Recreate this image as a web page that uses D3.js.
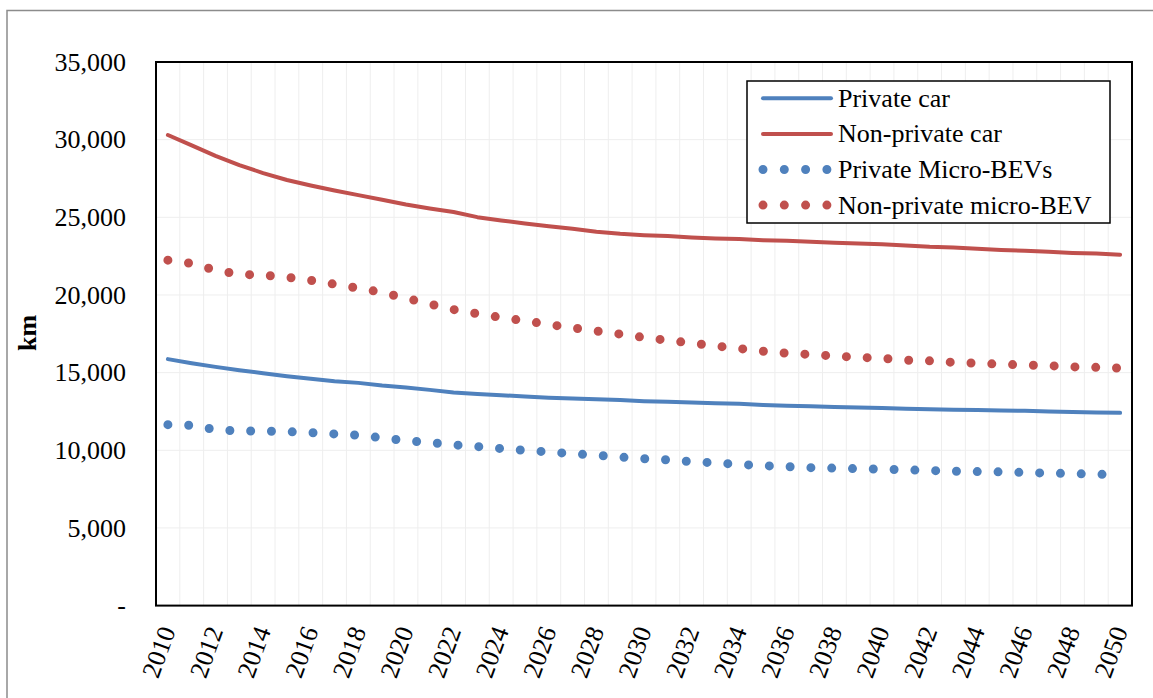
<!DOCTYPE html>
<html>
<head>
<meta charset="utf-8">
<script src="https://cdnjs.cloudflare.com/ajax/libs/d3/7.8.5/d3.min.js"></script>
<style>
  body { margin: 0; background: #fff; }
  text { font-family: "Liberation Serif", "Times New Roman", serif; fill: #000; }
</style>
</head>
<body>
<div id="graph"></div>
<script>
const years = [2010, 2011, 2012, 2013, 2014, 2015, 2016, 2017, 2018, 2019,
               2020, 2021, 2022, 2023, 2024, 2025, 2026, 2027, 2028, 2029,
               2030, 2031, 2032, 2033, 2034, 2035, 2036, 2037, 2038, 2039,
               2040, 2041, 2042, 2043, 2044, 2045, 2046, 2047, 2048, 2049, 2050];

const privateCar = [15870, 15610, 15370, 15160, 14960, 14770, 14600, 14450, 14340, 14170,
                    14040, 13890, 13720, 13630, 13550, 13460, 13380, 13330, 13290, 13230,
                    13160, 13120, 13070, 13030, 12990, 12920, 12870, 12840, 12790, 12750,
                    12720, 12680, 12640, 12610, 12590, 12560, 12540, 12500, 12470, 12440, 12410];

const nonPrivateCar = [30300, 29630, 28960, 28360, 27850, 27400, 27050, 26730, 26430, 26130,
                       25830, 25570, 25340, 25010, 24800, 24600, 24420, 24260, 24070, 23940,
                       23850, 23790, 23700, 23640, 23600, 23530, 23490, 23420, 23360, 23310,
                       23270, 23190, 23100, 23050, 22970, 22900, 22840, 22780, 22710, 22670, 22590];

const privateMicro = [11650, 11610, 11330, 11240, 11240, 11200, 11140, 11050, 10970, 10800,
                      10620, 10500, 10350, 10240, 10110, 10000, 9890, 9780, 9680, 9560,
                      9460, 9380, 9270, 9190, 9090, 9010, 8950, 8880, 8850, 8810,
                      8790, 8740, 8700, 8650, 8630, 8610, 8570, 8530, 8500, 8460, 8430];

const nonPrivateMicro = [22240, 22030, 21590, 21330, 21280, 21140, 20940, 20690, 20440, 20160,
                         19790, 19420, 19060, 18790, 18550, 18330, 18100, 17880, 17680, 17480,
                         17260, 17080, 16900, 16720, 16550, 16380, 16250, 16170, 16070, 15990,
                         15920, 15800, 15760, 15660, 15610, 15540, 15490, 15450, 15370, 15340, 15290];

const seriesNames = ["Private car", "Non-private car", "Private Micro-BEVs", "Non-private micro-BEV"];
const yTicks = [0, 5000, 10000, 15000, 20000, 25000, 30000, 35000];
const xLabels = years.filter(y => y % 2 === 0);

const blue = "#4F81BD";
const red = "#C0504D";

const series = [
  { name: seriesNames[0], values: privateCar, color: blue, dotted: false },
  { name: seriesNames[1], values: nonPrivateCar, color: red, dotted: false },
  { name: seriesNames[2], values: privateMicro, color: blue, dotted: true },
  { name: seriesNames[3], values: nonPrivateMicro, color: red, dotted: true }
];

const w = 1153, h = 698;
const plotLeft = 156, plotRight = 1132, plotTop = 62, plotBottom = 605.6;

const svg = d3.select("#graph")
              .append("svg")
              .attr("width", w)
              .attr("height", h);

// chart area frame (runs off the picture to the right and bottom)
svg.append("rect")
   .attr("x", 7)
   .attr("y", 10.5)
   .attr("width", 1170)
   .attr("height", 720)
   .attr("fill", "#fff")
   .attr("stroke", "#8c8c8c")
   .attr("stroke-width", 1.5);

const xScale = d3.scaleBand()
                 .domain(years)
                 .range([plotLeft, plotRight])
                 .padding(0);

const xMid = d => xScale(d) + xScale.bandwidth() / 2;

const yScale = d3.scaleLinear()
                 .domain([0, 35000])
                 .range([plotBottom, plotTop]);

// grid
svg.append("g")
   .selectAll("line")
   .data(years.slice(1))
   .enter()
   .append("line")
   .attr("x1", d => xScale(d))
   .attr("x2", d => xScale(d))
   .attr("y1", plotTop)
   .attr("y2", plotBottom)
   .attr("stroke", "#eeeeee")
   .attr("stroke-width", 1);

svg.append("g")
   .selectAll("line")
   .data(yTicks.slice(1, -1))
   .enter()
   .append("line")
   .attr("x1", plotLeft)
   .attr("x2", plotRight)
   .attr("y1", d => yScale(d))
   .attr("y2", d => yScale(d))
   .attr("stroke", "#eeeeee")
   .attr("stroke-width", 1);

// y axis
const yAxis = d3.axisLeft(yScale)
                .tickValues(yTicks)
                .tickSize(0)
                .tickPadding(30)
                .tickFormat(d => d === 0 ? "-" : d3.format(",")(d));

const yG = svg.append("g")
              .attr("id", "y-axis")
              .attr("transform", `translate(${plotLeft}, 0)`)
              .call(yAxis);
yG.select(".domain").remove();
yG.selectAll("text")
  .style("font-family", "'Liberation Serif', 'Times New Roman', serif")
  .style("font-size", "26px")
  .attr("fill", "#000");

// x axis
const xAxis = d3.axisBottom(xScale)
                .tickValues(xLabels)
                .tickSize(0)
                .tickFormat(d => d);

const xG = svg.append("g")
              .attr("id", "x-axis")
              .attr("transform", `translate(0, ${plotBottom})`)
              .call(xAxis);
xG.select(".domain").remove();
xG.selectAll("text")
  .style("font-family", "'Liberation Serif', 'Times New Roman', serif")
  .style("font-size", "26px")
  .attr("fill", "#000")
  .attr("y", 0)
  .attr("dy", 0)
  .attr("text-anchor", "end")
  .attr("transform", "translate(8, 25) rotate(-70)");

svg.append("text")
   .attr("transform", "translate(36, 333) rotate(-90)")
   .attr("text-anchor", "middle")
   .style("font-size", "26px")
   .style("font-weight", "bold")
   .text("km");

// lines
const line = d3.line()
               .x((d, i) => xMid(years[i]))
               .y(d => yScale(d));

svg.append("g")
   .selectAll("path")
   .data(series)
   .enter()
   .append("path")
   .attr("d", d => line(d.values))
   .attr("fill", "none")
   .attr("stroke", d => d.color)
   .attr("stroke-width", d => d.dotted ? 9 : 4)
   .attr("stroke-linecap", "round")
   .attr("stroke-linejoin", "round")
   .attr("stroke-dasharray", d => d.dotted ? "0 20.8" : null);

// plot frame
svg.append("rect")
   .attr("x", plotLeft)
   .attr("y", plotTop)
   .attr("width", plotRight - plotLeft)
   .attr("height", plotBottom - plotTop)
   .attr("fill", "none")
   .attr("stroke", "#000")
   .attr("stroke-width", 2);

// legend
const legend = svg.append("g").attr("id", "legend");

legend.append("rect")
      .attr("x", 747)
      .attr("y", 81)
      .attr("width", 363)
      .attr("height", 142)
      .attr("fill", "#fff")
      .attr("stroke", "#000")
      .attr("stroke-width", 1.5);

const rows = legend.selectAll("g.row")
                   .data(series)
                   .enter()
                   .append("g")
                   .attr("class", "row")
                   .attr("transform", (d, i) => `translate(0, ${98.3 + i * 35.6})`);

rows.append("line")
    .attr("x1", 763)
    .attr("x2", d => d.dotted ? 827 : 831)
    .attr("y1", 0)
    .attr("y2", 0)
    .attr("stroke", d => d.color)
    .attr("stroke-width", d => d.dotted ? 9 : 4)
    .attr("stroke-linecap", "round")
    .attr("stroke-dasharray", d => d.dotted ? "0 21.3" : null);

rows.append("text")
    .attr("x", 838)
    .attr("y", 8.5)
    .style("font-size", "26px")
    .text(d => d.name);
</script>
</body>
</html>
